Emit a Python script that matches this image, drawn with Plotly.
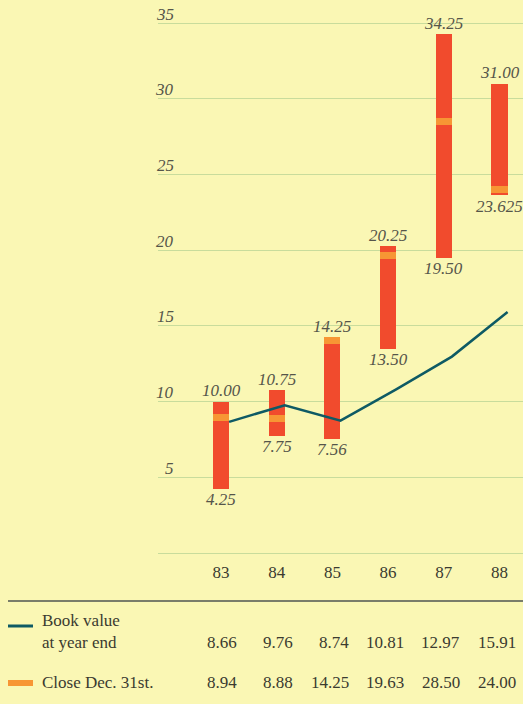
import plotly.graph_objects as go

# Share price range, book value and year-end close, 1983-1988
years = [83, 84, 85, 86, 87, 88]
price_high = [10.00, 10.75, 14.25, 20.25, 34.25, 31.00]
price_low = [4.25, 7.75, 7.56, 13.50, 19.50, 23.625]
book_value = [8.66, 9.76, 8.74, 10.81, 12.97, 15.91]
close_dec31 = [8.94, 8.88, 14.25, 19.63, 28.50, 24.00]
y_ticks = [5, 10, 15, 20, 25, 30, 35]
x_ticktext = ["83", "84", "85", "86", "87", "88"]

# styling
BG = "#FAF7B4"
GRID = "#C8DC9C"
RED = "#F14B2D"
ORANGE = "#F79634"
TEAL = "#0E5A64"
TEXT = "#3B3B30"
SOFT = "#55554A"
SERIF = "Liberation Serif"

W, H = 523, 704
M_L, M_R, M_T, M_B = 158, 0, 0, 144
PLOT_W = W - M_L - M_R
PLOT_H = H - M_T - M_B

BAR_W = 0.29
BAND_H = 0.45


def px_x(px):
    return (px - M_L) / PLOT_W


def px_y(py):
    return (PLOT_H + M_T - py) / PLOT_H


def fmt_price(v):
    s = f"{v:.3f}"
    return s[:-1] if s.endswith("0") else s


band_base = []
for lo, hi, c in zip(price_low, price_high, close_dec31):
    b = min(max(c - BAND_H / 2, lo), hi - BAND_H)
    band_base.append(b)

fig = go.Figure()

fig.add_trace(go.Bar(
    x=years, y=[h - l for h, l in zip(price_high, price_low)], base=price_low,
    width=BAR_W, marker=dict(color=RED, line=dict(width=0)),
    hoverinfo="skip", showlegend=False,
))
fig.add_trace(go.Bar(
    x=years, y=[BAND_H] * len(years), base=band_base,
    width=BAR_W, marker=dict(color=ORANGE, line=dict(width=0)),
    hoverinfo="skip", showlegend=False,
))
fig.add_trace(go.Scatter(
    x=[y + BAR_W / 2 for y in years], y=book_value, mode="lines",
    line=dict(color=TEAL, width=2.5), hoverinfo="skip", showlegend=False,
))

ann = []
# y-axis labels sitting just above their gridlines
for t in y_ticks:
    ann.append(dict(x=px_x(176), xref="paper", y=t, yref="y", text=str(t),
                    xanchor="right", yanchor="middle", yshift=9, showarrow=False,
                    font=dict(family=SERIF, size=17, color=SOFT, style="italic")))
# high / low labels on each bar
for yr, hi, lo in zip(years, price_high, price_low):
    ann.append(dict(x=yr, y=hi, text=fmt_price(hi), yshift=11, showarrow=False,
                    xanchor="center", yanchor="middle",
                    font=dict(family=SERIF, size=17, color=SOFT, style="italic")))
    ann.append(dict(x=yr, y=lo, text=fmt_price(lo), yshift=-11, showarrow=False,
                    xanchor="center", yanchor="middle",
                    font=dict(family=SERIF, size=17, color=SOFT, style="italic")))

# table beneath the chart
ann.append(dict(x=px_x(40), xref="paper", y=px_y(631), yref="paper",
                text="Book value<br>at year end", align="left",
                xanchor="left", yanchor="middle", showarrow=False,
                font=dict(family=SERIF, size=17, color=TEXT)))
ann.append(dict(x=px_x(40), xref="paper", y=px_y(683), yref="paper",
                text="Close Dec. 31st.", align="left",
                xanchor="left", yanchor="middle", showarrow=False,
                font=dict(family=SERIF, size=17, color=TEXT)))
for yr, bv, cl in zip(years, book_value, close_dec31):
    ann.append(dict(x=yr + 0.33, xref="x", y=px_y(642), yref="paper",
                    text=f"{bv:.2f}", xanchor="right", yanchor="middle",
                    showarrow=False, font=dict(family=SERIF, size=17, color=TEXT)))
    ann.append(dict(x=yr + 0.33, xref="x", y=px_y(683), yref="paper",
                    text=f"{cl:.2f}", xanchor="right", yanchor="middle",
                    showarrow=False, font=dict(family=SERIF, size=17, color=TEXT)))

shapes = [
    dict(type="line", xref="paper", yref="paper", x0=px_x(8), x1=px_x(523),
         y0=px_y(601), y1=px_y(601), line=dict(color="#4E5552", width=1.5)),
    dict(type="line", xref="paper", yref="paper", x0=px_x(8), x1=px_x(33),
         y0=px_y(626), y1=px_y(626), line=dict(color=TEAL, width=3)),
    dict(type="rect", xref="paper", yref="paper", x0=px_x(8), x1=px_x(33),
         y0=px_y(686), y1=px_y(680), line=dict(width=0), fillcolor=ORANGE),
]

PX_PER_UNIT = (553 - 23) / 35.0
y_top = 35 + 23 / PX_PER_UNIT
y_bot = -(M_T + PLOT_H - 553) / PX_PER_UNIT
X_PX = (499.5 - 221) / 5.0
x_lo = 83 - (221 - M_L) / X_PX
x_hi = 88 + (523 - 499.5) / X_PX

fig.update_layout(
    width=W, height=H,
    margin=dict(l=M_L, r=M_R, t=M_T, b=M_B, pad=0),
    paper_bgcolor=BG, plot_bgcolor=BG,
    barmode="overlay", bargap=0,
    annotations=ann, shapes=shapes,
    xaxis=dict(range=[x_lo, x_hi], tickvals=years, ticktext=x_ticktext,
               showgrid=False, zeroline=False, showline=False, ticks="",
               tickfont=dict(family=SERIF, size=17, color=TEXT), fixedrange=True),
    yaxis=dict(range=[y_bot, y_top], tickvals=[0] + y_ticks, showticklabels=False,
               showgrid=True, gridcolor=GRID, gridwidth=1, zeroline=False,
               showline=False, ticks="", fixedrange=True),
)

fig.write_html("out.html", config={"displayModeBar": False})
